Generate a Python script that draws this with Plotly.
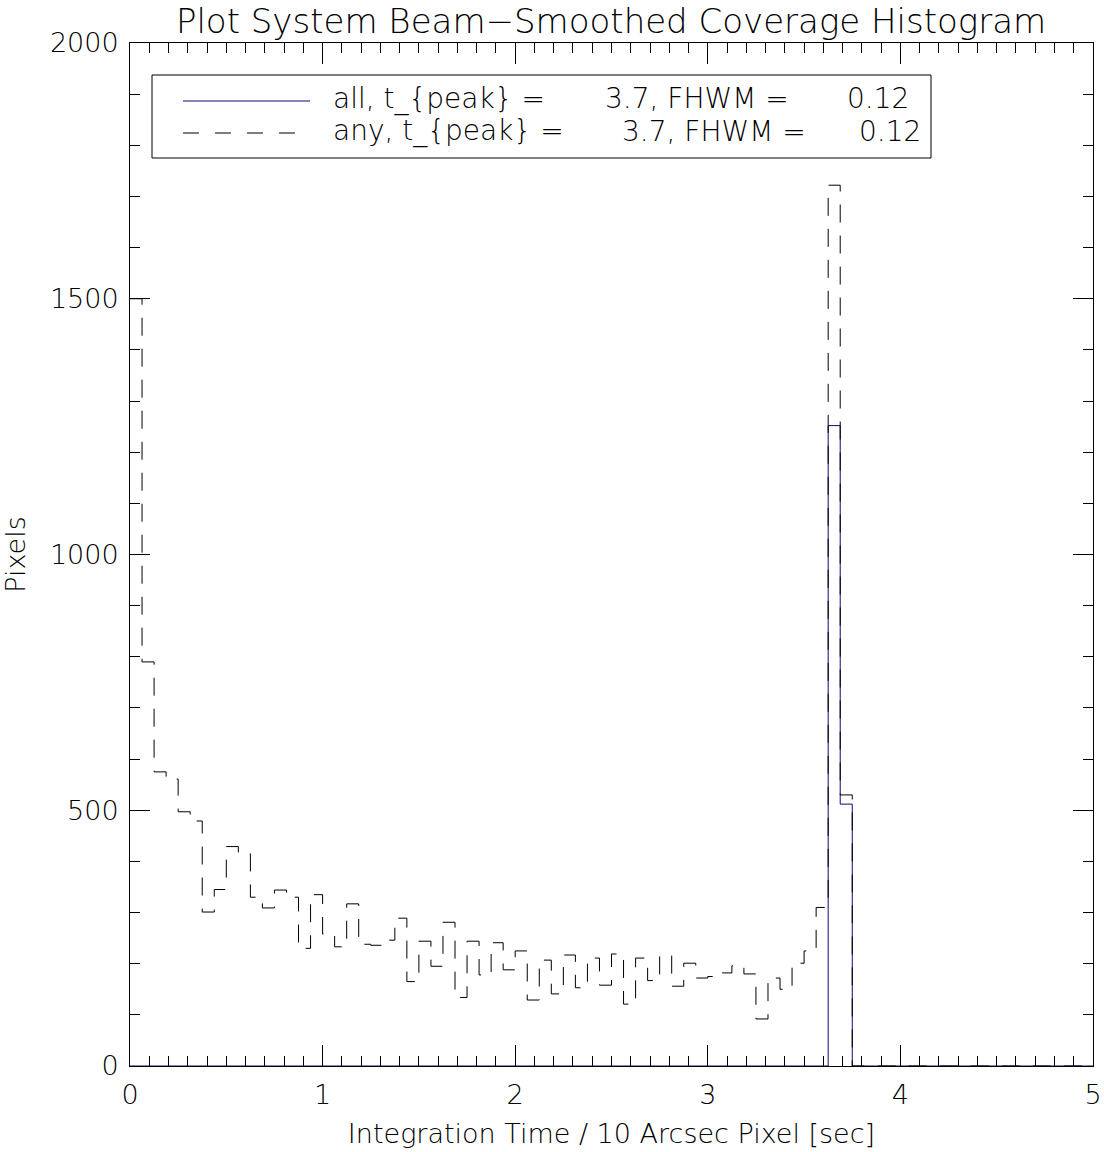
import plotly.graph_objects as go

# ---- data ----
bin_width = 0.0625
n_bins = 80
bin_edges = [i * bin_width for i in range(n_bins + 1)]

any_counts = [
    1500, 790, 575, 561, 497, 479, 301, 345, 429, 418,
    330, 309, 344, 330, 230, 335, 258, 233, 317, 238,
    236, 246, 289, 165, 244, 195, 281, 134, 244, 178,
    241, 188, 225, 129, 207, 141, 217, 153, 211, 158,
    219, 121, 211, 167, 216, 156, 201, 172, 175, 182,
    196, 180, 92, 172, 150, 201, 225, 310, 1722, 530,
] + [0] * 20

all_counts = [0] * 58 + [1252, 512] + [0] * 20

title_text = "Plot System Beam\u2212Smoothed Coverage Histogram"
x_title = "Integration Time / 10 Arcsec Pixel [sec]"
y_title = "Pixels"
legend_all = ["all, t_{peak} =", "3.7, FHWM =", "0.12"]
legend_any = ["any, t_{peak} =", "3.7, FHWM =", "0.12"]

FONT = "DejaVu Sans"
W = 200
NAVY = "#0a0a7a"

def fnt(size):
    return dict(family=FONT, size=size, color="black", weight=W)

fig = go.Figure()

fig.add_trace(go.Scatter(
    x=bin_edges, y=all_counts + [all_counts[-1]],
    mode="lines", line=dict(color=NAVY, width=1, shape="hv"),
    cliponaxis=False, showlegend=False, hoverinfo="skip"))

fig.add_trace(go.Scatter(
    x=bin_edges, y=any_counts + [any_counts[-1]],
    mode="lines", line=dict(color="black", width=1, shape="hv", dash="18px,13px"),
    cliponaxis=False, showlegend=False, hoverinfo="skip"))

axis_common = dict(
    showgrid=False, zeroline=False, showline=True, linecolor="black", linewidth=1,
    mirror="ticks", ticks="inside", tickcolor="black", tickwidth=1,
    tickfont=fnt(27), automargin=False,
    layer="below traces",
)

fig.update_xaxes(
    range=[0, 5], tickmode="linear", tick0=0, dtick=1, ticklen=21,
    minor=dict(dtick=0.1, ticklen=10, ticks="inside", tickcolor="black", tickwidth=1),
    title=dict(text=x_title, font=fnt(27), standoff=14),
    ticklabelstandoff=5,
    **axis_common)

fig.update_yaxes(
    range=[0, 2000], tickmode="linear", tick0=0, dtick=500, ticklen=20,
    minor=dict(dtick=100, ticklen=10, ticks="inside", tickcolor="black", tickwidth=1),
    title=dict(text=y_title, font=fnt(27), standoff=20),
    ticklabelstandoff=5,
    **axis_common)

# legend box drawn manually (IDL style)
def px_x(p):
    return (p - 130) / 963.0

def px_y(p):
    return (1066 - p) / 1023.0

shapes = [
    dict(type="rect", xref="paper", yref="paper",
         x0=px_x(152), x1=px_x(931), y0=px_y(158), y1=px_y(75),
         line=dict(color="black", width=1), fillcolor="white", layer="above"),
    dict(type="line", xref="paper", yref="paper",
         x0=px_x(183), x1=px_x(310), y0=px_y(101), y1=px_y(101),
         line=dict(color=NAVY, width=1)),
    dict(type="line", xref="paper", yref="paper",
         x0=px_x(183), x1=px_x(296), y0=px_y(133), y1=px_y(133),
         line=dict(color="black", width=1, dash="16px,16px")),
]

annotations = []
for txt, xp in zip(legend_all, [331, 603, 845]):
    annotations.append(dict(text=txt, x=px_x(xp), y=px_y(99), xref="paper", yref="paper",
                            xanchor="left", yanchor="middle", showarrow=False,
                            font=fnt(28)))
for txt, xp in zip(legend_any, [331, 620, 857]):
    annotations.append(dict(text=txt, x=px_x(xp), y=px_y(131), xref="paper", yref="paper",
                            xanchor="left", yanchor="middle", showarrow=False,
                            font=fnt(28)))

fig.update_layout(
    width=1104, height=1152,
    margin=dict(l=130, r=11, t=43, b=86, autoexpand=False),
    paper_bgcolor="white", plot_bgcolor="white",
    title=dict(text=title_text, x=0.5535, xanchor="center",
               yref="container", y=1 - 9.0 / 1152, yanchor="top",
               font=fnt(34), automargin=False),
    shapes=shapes, annotations=annotations,
    showlegend=False,
)

fig.write_html(
    "out.html",
    config={"displayModeBar": False},
    post_script="document.body.style.margin='0';document.body.style.overflow='hidden';",
)
